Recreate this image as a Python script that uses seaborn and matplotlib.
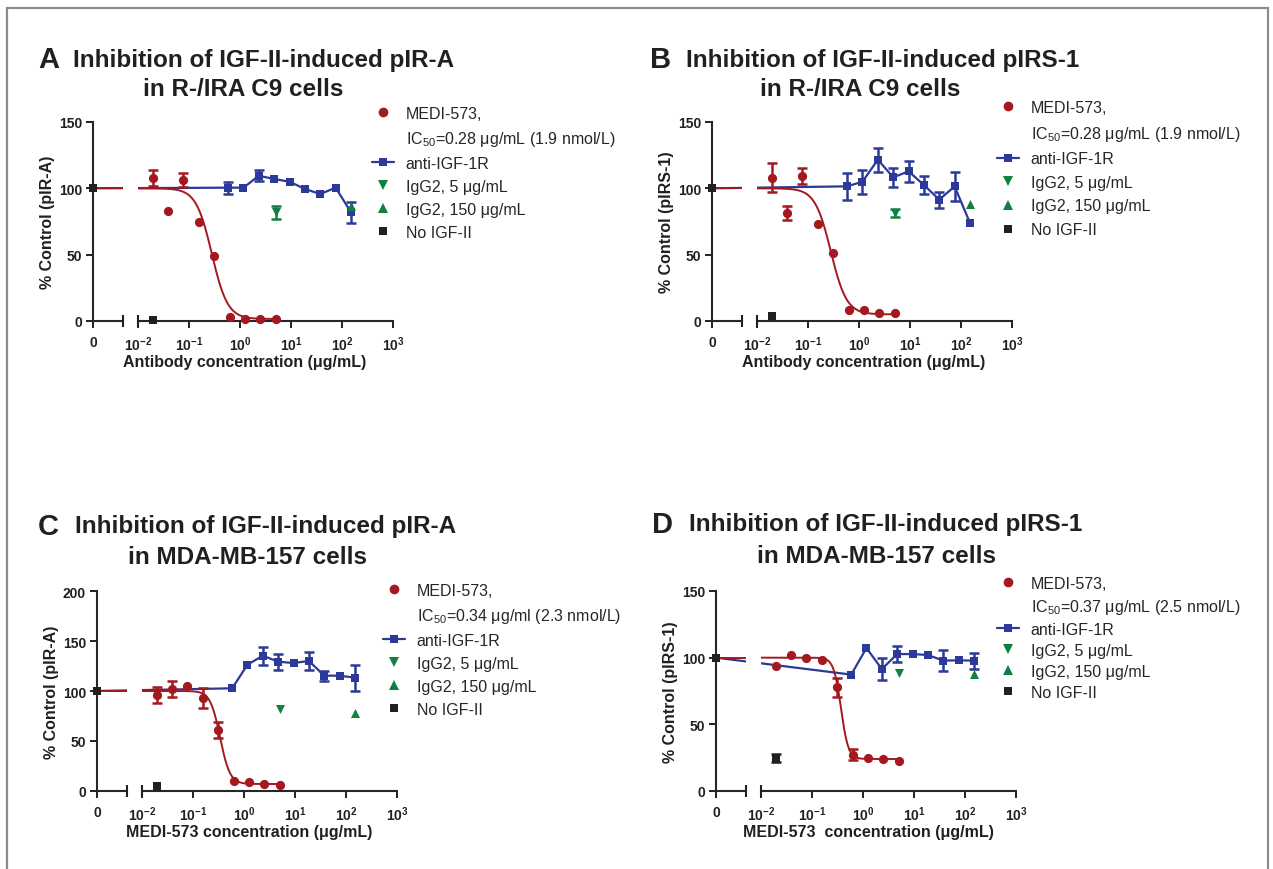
import numpy as np
import matplotlib
matplotlib.use('Agg')
import matplotlib.pyplot as plt
import seaborn as sns
from matplotlib.lines import Line2D
from matplotlib.patches import Rectangle
from matplotlib.ticker import NullLocator

sns.set_theme(style='ticks')
plt.rcParams['font.family'] = ['Liberation Sans', 'DejaVu Sans']
plt.rcParams['mathtext.fontset'] = 'custom'
plt.rcParams['mathtext.rm'] = 'Liberation Sans'
plt.rcParams['mathtext.bf'] = 'Liberation Sans:bold'
plt.rcParams['mathtext.it'] = 'Liberation Sans:italic'
plt.rcParams['axes.linewidth'] = 1.5

RED = '#A3191F'
BLUE = '#2B3A98'
GREEN = '#0F8040'
BLACK = '#231F20'

# 浓度 (µg/mL)
medi_conc = [0.0195, 0.039, 0.078, 0.156, 0.3125, 0.625, 1.25, 2.5, 5]
anti_conc = [0.586, 1.17, 2.34, 4.69, 9.375, 18.75, 37.5, 75, 150]
igg_low_conc = 5
igg_high_conc = 150
no_igf_conc = 0.02
control_value = 100

# A: pIR-A, R-/IRA C9
a_medi = [107.5, 82.7, 106.3, 74.4, 49, 3, 1.5, 1.8, 1.5]
a_medi_sd = [6, 0, 5, 0, 0, 0, 0, 0, 0]
a_anti = [100.5, 100.5, 109.5, 107, 105, 99.5, 95.7, 100.5, 82]
a_anti_sd = [4.5, 0, 4, 0, 0, 0, 0, 0, 8]
a_igg_low, a_igg_low_sd = 82, 5
a_igg_high = 87
a_no_igf, a_no_igf_sd = 1, 0
a_fit = [100, 1.5, 0.28, 2.8]  # top, bottom, IC50, hill

# B: pIRS-1, R-/IRA C9
b_medi = [108, 81.4, 109.5, 73, 51, 8.5, 8.3, 5.8, 5.8]
b_medi_sd = [11, 5, 6, 0, 0, 0, 0, 0, 0]
b_anti = [101.5, 105, 121.6, 108.3, 112.8, 102.5, 91.5, 101.5, 73.9]
b_anti_sd = [10, 9, 9, 7, 8, 7, 6, 11, 0]
b_igg_low, b_igg_low_sd = 81.4, 3
b_igg_high = 88.4
b_no_igf, b_no_igf_sd = 3.5, 0
b_fit = [100, 5, 0.28, 2.8]

# C: pIR-A, MDA-MB-157
c_medi = [96.3, 102, 105.3, 92.7, 61.3, 10, 8.7, 7.3, 5.7]
c_medi_sd = [8, 8, 0, 10, 8, 0, 0, 0, 0]
c_anti = [102.7, 126.3, 135.3, 129.3, 128, 130, 115.3, 115.3, 113.3]
c_anti_sd = [0, 0, 9, 8, 0, 9, 5, 0, 13]
c_igg_low, c_igg_low_sd = 82, 0
c_igg_high = 78
c_no_igf, c_no_igf_sd = 5.3, 0
c_fit = [100, 7, 0.34, 4.5]

# D: pIRS-1, MDA-MB-157
d_medi = [94, 102, 99.7, 98, 77.8, 27.2, 24.5, 24, 22.3]
d_medi_sd = [0, 0, 0, 0, 7, 4, 0, 0, 0]
d_anti = [87.3, 107.2, 91.5, 102.7, 102.7, 102, 97.8, 98, 97.8]
d_anti_sd = [0, 0, 8, 6, 0, 0, 8, 0, 6]
d_igg_low, d_igg_low_sd = 88.2, 0
d_igg_high = 87.7
d_no_igf, d_no_igf_sd = 24.5, 3
d_fit = [100, 24, 0.37, 6]

W, H = 1273, 870
PX_DEC = 51.0
LEFT_W = 30 / PX_DEC
GAP = 15 / PX_DEC


def rect(x0, x1, ytop, ybot):
    return [x0 / W, 1 - ybot / H, (x1 - x0) / W, (ybot - ytop) / H]


def errbars(ax, x, y, sd, color):
    idx = [i for i, s in enumerate(sd) if s > 0]
    if idx:
        ax.errorbar([x[i] for i in idx], [y[i] for i in idx], yerr=[sd[i] for i in idx],
                    fmt='none', ecolor=color, elinewidth=1.8, capsize=3.6, capthick=1.8,
                    zorder=3, clip_on=False)


def draw_panel(fig, x0, ytop, ybot, ymax, ylabel, xlabel, medi, medi_sd, anti, anti_sd,
               igg_low, igg_low_sd, igg_high, no_igf, no_igf_sd, fit, ic50_label, leg_xy,
               leg_space):
    ax0 = fig.add_axes(rect(x0, x0 + 30, ytop, ybot))
    ax = fig.add_axes(rect(x0 + 45, x0 + 300, ytop, ybot), sharey=ax0)

    ax0.set_xlim(0, LEFT_W)
    ax0.set_ylim(0, ymax)
    ax.set_xscale('log')
    ax.set_xlim(1e-2, 1e3)
    sns.despine(ax=ax0)
    sns.despine(ax=ax, left=True)

    # 拟合曲线 (4PL)
    top, bottom, ic50, hill = fit
    xc = np.logspace(-2, np.log10(5.5), 400)
    yc = bottom + (top - bottom) / (1 + (xc / ic50) ** hill)
    sns.lineplot(x=xc, y=yc, ax=ax, color=RED, lw=1.4, zorder=2, sort=False)
    sns.lineplot(x=[0, LEFT_W], y=[top, top], ax=ax0, color=RED, lw=1.4, zorder=2)

    # anti-IGF-1R 折线，从 0 点连到第一点
    x_first = np.log10(anti_conc[0]) + 2 + LEFT_W + GAP
    sns.lineplot(x=[0, x_first], y=[control_value, anti[0]], ax=ax0, color=BLUE, lw=1.6, zorder=1)
    x_zero_main = 10 ** (-2 - LEFT_W - GAP)
    sns.lineplot(x=[x_zero_main] + anti_conc, y=[control_value] + anti, ax=ax, color=BLUE,
                 lw=1.6, zorder=1)

    errbars(ax, anti_conc, anti, anti_sd, BLUE)
    errbars(ax, medi_conc, medi, medi_sd, RED)
    errbars(ax, [igg_low_conc], [igg_low], [igg_low_sd], GREEN)
    errbars(ax, [no_igf_conc], [no_igf], [no_igf_sd], BLACK)

    sns.scatterplot(x=anti_conc, y=anti, ax=ax, color=BLUE, marker='s', s=38,
                    linewidth=0, zorder=4, clip_on=False)
    sns.scatterplot(x=medi_conc, y=medi, ax=ax, color=RED, marker='o', s=44,
                    linewidth=0, zorder=5, clip_on=False)
    sns.scatterplot(x=[igg_low_conc], y=[igg_low], ax=ax, color=GREEN, marker='v', s=42,
                    linewidth=0, zorder=5, clip_on=False)
    sns.scatterplot(x=[igg_high_conc], y=[igg_high], ax=ax, color=GREEN, marker='^', s=42,
                    linewidth=0, zorder=5, clip_on=False)
    sns.scatterplot(x=[no_igf_conc], y=[no_igf], ax=ax, color=BLACK, marker='s', s=38,
                    linewidth=0, zorder=5, clip_on=False)
    sns.scatterplot(x=[0], y=[control_value], ax=ax0, color=BLACK, marker='s', s=38,
                    linewidth=0, zorder=6, clip_on=False)

    # 断轴标记
    ax0.plot([LEFT_W], [0], marker='|', ms=9, mew=1.5, color=BLACK, clip_on=False, zorder=6)
    ax.plot([1e-2], [0], marker='|', ms=9, mew=1.5, color=BLACK, clip_on=False, zorder=6)

    yt = list(range(0, ymax + 1, 50))
    ax0.set_yticks(yt)
    ax0.set_yticklabels([str(v) for v in yt], fontweight='bold', fontsize=10)
    ax0.set_xticks([0])
    ax0.set_xticklabels(['0'], fontweight='bold', fontsize=10)
    dec = [1e-2, 1e-1, 1e0, 1e1, 1e2, 1e3]
    ax.set_xticks(dec)
    ax.set_xticklabels([r'$\mathbf{10^{%d}}$' % int(np.log10(d)) for d in dec], fontsize=10)
    ax.xaxis.set_minor_locator(NullLocator())
    for a in (ax0, ax):
        a.tick_params(axis='both', direction='out', length=5, width=1.4, color=BLACK,
                      labelcolor=BLACK, pad=3)
        a.tick_params(axis='x', pad=5)
    ax.tick_params(axis='y', which='both', left=False, labelleft=False)
    ax0.set_xlabel('')
    ax0.set_ylabel('')
    ax.set_xlabel('')
    ax.set_ylabel('')

    fig.text((x0 - 45) / W, 1 - (ytop + ybot) / 2 / H, ylabel, rotation=90, ha='center',
             va='center', fontsize=11.5, fontweight='bold', color=BLACK)
    fig.text((x0 + 152) / W, 1 - (ybot + 41) / H, xlabel, ha='center', va='center',
             fontsize=11.5, fontweight='bold', color=BLACK)

    handles = [
        Line2D([], [], ls='none', marker='o', color=RED, ms=7, mew=0),
        Line2D([], [], ls='none'),
        Line2D([], [], ls='-', lw=1.6, marker='s', color=BLUE, ms=6, mew=0),
        Line2D([], [], ls='none', marker='v', color=GREEN, ms=6.5, mew=0),
        Line2D([], [], ls='none', marker='^', color=GREEN, ms=6.5, mew=0),
        Line2D([], [], ls='none', marker='s', color=BLACK, ms=6, mew=0),
    ]
    labels = ['MEDI-573,', ic50_label, 'anti-IGF-1R', 'IgG2, 5 μg/mL', 'IgG2, 150 μg/mL',
              'No IGF-II']
    ax.legend(handles, labels, loc='upper left', bbox_to_anchor=(leg_xy[0] / W, 1 - leg_xy[1] / H),
              bbox_transform=fig.transFigure, frameon=False, borderpad=0, borderaxespad=0,
              handlelength=1.35, handletextpad=0.75, labelspacing=leg_space,
              prop={'size': 11.5, 'family': ['Liberation Sans', 'DejaVu Sans']})


fig = plt.figure(figsize=(W / 100, H / 100), dpi=100)
fig.patch.set_facecolor('white')

draw_panel(fig, 93, 123, 322, 150, '% Control (pIR-A)', 'Antibody concentration (μg/mL)',
           a_medi, a_medi_sd, a_anti, a_anti_sd, a_igg_low, a_igg_low_sd, a_igg_high,
           a_no_igf, a_no_igf_sd, a_fit,
           r'$\mathregular{IC_{50}}$=0.28 μg/mL (1.9 nmol/L)', (372, 107), 0.5)
draw_panel(fig, 712, 123, 322, 150, '% Control (pIRS-1)', 'Antibody concentration (μg/mL)',
           b_medi, b_medi_sd, b_anti, b_anti_sd, b_igg_low, b_igg_low_sd, b_igg_high,
           b_no_igf, b_no_igf_sd, b_fit,
           r'$\mathregular{IC_{50}}$=0.28 μg/mL (1.9 nmol/L)', (997, 101), 0.54)
draw_panel(fig, 97, 592, 792, 200, '% Control (pIR-A)', 'MEDI-573 concentration (μg/mL)',
           c_medi, c_medi_sd, c_anti, c_anti_sd, c_igg_low, c_igg_low_sd, c_igg_high,
           c_no_igf, c_no_igf_sd, c_fit,
           r'$\mathregular{IC_{50}}$=0.34 μg/ml (2.3 nmol/L)', (383, 584), 0.5)
draw_panel(fig, 716, 592, 792, 150, '% Control (pIRS-1)', 'MEDI-573  concentration (μg/mL)',
           d_medi, d_medi_sd, d_anti, d_anti_sd, d_igg_low, d_igg_low_sd, d_igg_high,
           d_no_igf, d_no_igf_sd, d_fit,
           r'$\mathregular{IC_{50}}$=0.37 μg/mL (2.5 nmol/L)', (997, 577), 0.37)

# 标题
titles = [
    ('A', 38, 60, 73, 'Inhibition of IGF-II-induced pIR-A', 243, 90, 'in R-/IRA C9 cells'),
    ('B', 650, 60, 686, 'Inhibition of IGF-II-induced pIRS-1', 860, 90, 'in R-/IRA C9 cells'),
    ('C', 38, 527, 75, 'Inhibition of IGF-II-induced pIR-A', 247, 558, 'in MDA-MB-157 cells'),
    ('D', 652, 525, 689, 'Inhibition of IGF-II-induced pIRS-1', 877, 557, 'in MDA-MB-157 cells'),
]
for letter, lx, ly, tx, t1, cx, cy, t2 in titles:
    fig.text(lx / W, 1 - ly / H, letter, ha='left', va='center', fontsize=21,
             fontweight='bold', color=BLACK)
    fig.text(tx / W, 1 - ly / H, t1, ha='left', va='center', fontsize=17.5,
             fontweight='bold', color=BLACK)
    fig.text(cx / W, 1 - cy / H, t2, ha='center', va='center', fontsize=17.5,
             fontweight='bold', color=BLACK)

# 外框
fig.add_artist(Rectangle((7 / W, -0.05), (1268 - 7) / W, 1.05 - 8.5 / H,
                         transform=fig.transFigure, fill=False, edgecolor='#8c8c8c', lw=1.6))

fig.savefig('out.png', dpi=100)
